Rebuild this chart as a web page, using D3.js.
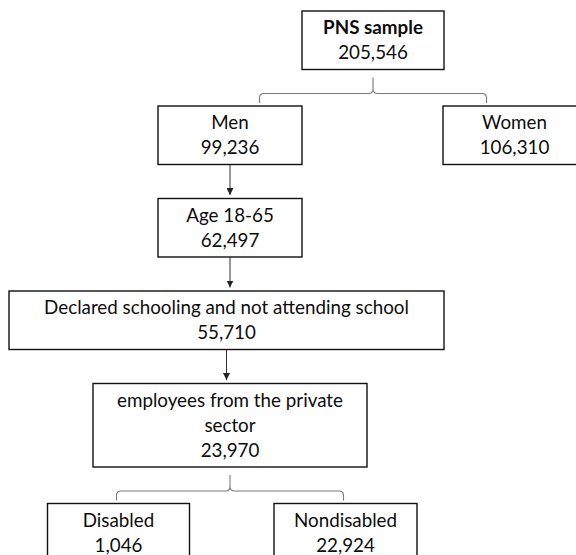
<!DOCTYPE html>
<html>
<head>
<meta charset="utf-8">
<script src="https://cdn.jsdelivr.net/npm/d3@7"></script>
<style>
  body { margin: 0; background: #fff; }
  svg { display: block; }
  .box { fill: #fff; stroke: #111; stroke-width: 1.4; }
  .label { font-family: Lato, "Open Sans", sans-serif; fill: #0d0d0d; }
  .arrow { stroke: #333; stroke-width: 1; }
  .brace { fill: none; stroke: #7a7a7a; stroke-width: 1.1; }
</style>
</head>
<body>
<svg id="chart"></svg>
<script>
const W = 576, H = 555;
const FONT_SIZE = 18.8;
const LINE_H = 25;

// data
var labels = ["PNS sample", "Men", "Women", "Age 18-65",
              "Declared schooling and not attending school",
              "employees from the private sector", "Disabled", "Nondisabled"];
var counts = [205546, 99236, 106310, 62497, 55710, 23970, 1046, 22924];
var parents = [null, 0, 0, 1, 3, 4, 5, 5];
var bold = [true, false, false, false, false, false, false, false];

// layout
var rows = [0, 1, 1, 2, 3, 4, 5, 5];
var xCenter = [373, 230, 514.5, 230, 226.5, 230, 118.5, 345.5];
var boxW = [142, 144, 143, 144, 435, 274, 142, 143];
var FIRST_TOP = 11, ARROW_GAP = 34, BRACE_GAP = 36.5, BRACE_HALF = 113.5;

var svg = d3.select("#chart").attr("width", W).attr("height", H);
var fmt = d3.format(",");

svg.append("defs").append("marker")
    .attr("id", "head")
    .attr("viewBox", "0 0 10 10")
    .attr("refX", 10).attr("refY", 5)
    .attr("markerWidth", 7).attr("markerHeight", 7)
    .attr("markerUnits", "userSpaceOnUse")
    .attr("orient", "auto")
  .append("path")
    .attr("d", "M0,0 L10,5 L0,10 Z")
    .attr("fill", "#222");

// measure + wrap label into lines that fit the box
var probe = svg.append("text").attr("class", "label").attr("font-size", FONT_SIZE);
function wrap(text, maxW, isBold) {
    probe.attr("font-weight", isBold ? "bold" : "normal");
    var words = text.split(" "), lines = [], cur = "";
    words.forEach(function(w) {
        var t = cur ? cur + " " + w : w;
        probe.text(t);
        if (probe.node().getComputedTextLength() > maxW && cur) {
            lines.push(cur);
            cur = w;
        } else {
            cur = t;
        }
    });
    lines.push(cur);
    return lines;
}

var nodes = labels.map(function(l, i) {
    var lines = wrap(l, boxW[i] - 22, bold[i]);
    return {i: i, lines: lines, count: counts[i], parent: parents[i], row: rows[i],
            cx: xCenter[i], w: boxW[i], n: lines.length + 1};
});
probe.remove();

// row heights and tops by stacking
var nRows = d3.max(rows) + 1;
var rowH = d3.range(nRows).map(function(r) {
    return d3.max(nodes.filter(function(d) { return d.row == r; }), function(d) { return d.n; }) * LINE_H + 8.5;
});
var rowTop = [FIRST_TOP];
for (var r = 1; r < nRows; r++) {
    var kids = nodes.filter(function(d) { return d.row == r; });
    var gap = kids.length > 1 ? BRACE_GAP : ARROW_GAP;
    rowTop.push(rowTop[r - 1] + rowH[r - 1] + gap);
}
nodes.forEach(function(d) {
    d.y = rowTop[d.row];
    d.h = rowH[d.row];
    d.x = d.cx - d.w / 2;
});

// connectors
var links = svg.append("g");
var groups = d3.group(nodes.filter(function(d) { return d.parent != null; }), function(d) { return d.parent; });
groups.forEach(function(kids, p) {
    var par = nodes[p];
    var pb = par.y + par.h;
    var ct = kids[0].y;
    if (kids.length == 1) {
        links.append("line")
            .attr("class", "arrow")
            .attr("x1", par.cx).attr("x2", par.cx)
            .attr("y1", pb).attr("y2", ct - 3.5)
            .attr("marker-end", "url(#head)");
    } else {
        var cx = par.cx, top = pb + 8, hy = pb + 24, bot = ct - 3;
        var l = cx - BRACE_HALF, rr = cx + BRACE_HALF, c = 4.5;
        var path = d3.path();
        path.moveTo(l, bot);
        path.lineTo(l, hy + c);
        path.quadraticCurveTo(l, hy, l + c, hy);
        path.lineTo(cx - c, hy);
        path.quadraticCurveTo(cx, hy, cx, hy - c);
        path.quadraticCurveTo(cx, hy, cx + c, hy);
        path.lineTo(rr - c, hy);
        path.quadraticCurveTo(rr, hy, rr, hy + c);
        path.lineTo(rr, bot);
        path.moveTo(cx, hy - c);
        path.lineTo(cx, top);
        links.append("path").attr("class", "brace").attr("d", path.toString());
    }
});

// boxes
var g = svg.append("g").selectAll("g").data(nodes).join("g");
g.append("rect")
    .attr("class", "box")
    .attr("x", function(d) { return d.x; })
    .attr("y", function(d) { return d.y; })
    .attr("width", function(d) { return d.w; })
    .attr("height", function(d) { return d.h; });

g.each(function(d) {
    var all = d.lines.concat([fmt(d.count)]);
    var mid = d.y + d.h / 2;
    var t = d3.select(this).append("text")
        .attr("class", "label")
        .attr("font-size", FONT_SIZE)
        .attr("text-anchor", "middle");
    all.forEach(function(s, k) {
        t.append("tspan")
            .attr("x", d.cx)
            .attr("y", mid + 6.5 + (k - (all.length - 1) / 2) * LINE_H)
            .attr("font-weight", bold[d.i] && k < d.lines.length ? "bold" : "normal")
            .text(s);
    });
});
</script>
</body>
</html>
